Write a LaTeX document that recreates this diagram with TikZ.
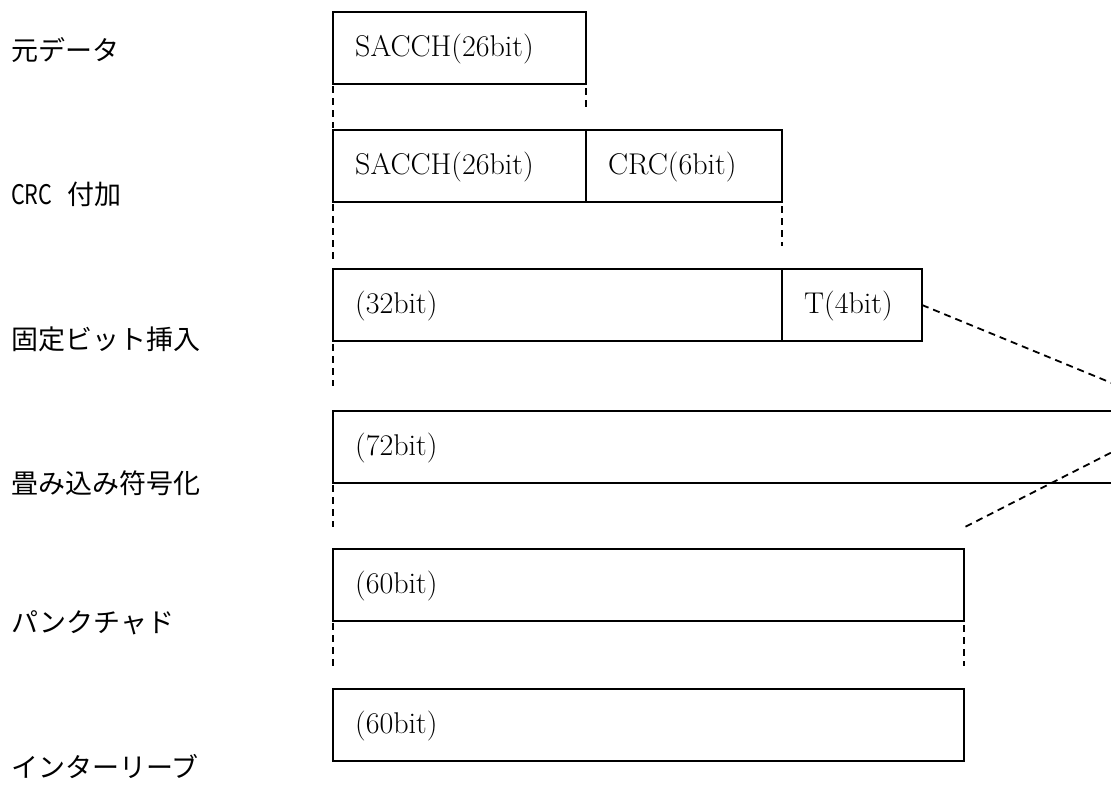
\documentclass[tikz,border=0pt]{standalone}
\usepackage{fontspec}
\newfontfamily\jp{Noto Sans CJK JP}
\begin{document}
\begin{tikzpicture}[x=1pt,y=-1pt,
  blk/.style={draw,line width=1.9pt,rectangle,inner sep=0pt,outer sep=0pt,anchor=north west,minimum height=72pt},
  btxt/.style={anchor=base west,inner sep=0pt,font=\fontsize{30}{36}\selectfont},
  lbl/.style={anchor=west,inner sep=0pt,font=\jp\fontsize{27}{32}\selectfont},
  guide/.style={line width=1.8pt,dash pattern=on 7pt off 5pt}]
\useasboundingbox (0,0) rectangle (1111,785);
\clip (0,0) rectangle (1111,785);
\fill[white] (0,0) rectangle (1111,785);

% boxes
\node[blk,minimum width=253pt] (b1)  at (333,12)  {};
\node[blk,minimum width=253pt] (b2a) at (333,130) {};
\node[blk,minimum width=196pt] (b2b) at (586,130) {};
\node[blk,minimum width=449pt] (b3a) at (333,269) {};
\node[blk,minimum width=140pt] (b3b) at (782,269) {};
\node[blk,minimum width=830pt] (b4)  at (333,411) {};
\node[blk,minimum width=631pt] (b5)  at (333,549) {};
\node[blk,minimum width=631pt] (b6)  at (333,689) {};

% box texts
\node[btxt] (t1)  at ([xshift=22pt,yshift=-44pt]b1.north west)  {SACCH(26bit)};
\node[btxt] (t2a) at ([xshift=22pt,yshift=-44pt]b2a.north west) {SACCH(26bit)};
\node[btxt] (t2b) at ([xshift=22pt,yshift=-44pt]b2b.north west) {CRC(6bit)};
\node[btxt] (t3a) at ([xshift=22pt,yshift=-44pt]b3a.north west) {(32bit)};
\node[btxt] (t3b) at ([xshift=22pt,yshift=-44pt]b3b.north west) {T(4bit)};
\node[btxt] (t4)  at ([xshift=22pt,yshift=-44pt]b4.north west)  {(72bit)};
\node[btxt] (t5)  at ([xshift=22pt,yshift=-44pt]b5.north west)  {(60bit)};
\node[btxt] (t6)  at ([xshift=22pt,yshift=-44pt]b6.north west)  {(60bit)};

% row labels
\node[lbl] (l1) at (11,50)  {元データ};
\node[lbl] (l2) at (11,194) {\scalebox{0.8}[1]{CRC}\hspace{15pt}付加};
\node[lbl] (l3) at (11,339) {固定ビット挿入};
\node[lbl] (l4) at (11,483) {畳み込み符号化};
\node[lbl] (l5) at (11,623) {パンクチャド};
\node[lbl] (l6) at (11,767) {インターリーブ};

% dashed guides
\draw[guide] ([yshift=-2pt]b1.south west) -- ([yshift=2pt]b2a.north west);
\draw[guide] ([yshift=-4pt]b1.south east) -- ([yshift=-24pt]b1.south east);
\draw[guide] ([yshift=-2pt]b2a.south west) -- ([yshift=6pt]b3a.north west);
\draw[guide] ([yshift=-4pt]b2b.south east) -- ([yshift=-44pt]b2b.south east);
\draw[guide] ([yshift=-3pt]b3a.south west) -- ([yshift=-45pt]b3a.south west);
\draw[guide] ([yshift=-2pt]b4.south west) -- ([yshift=-44pt]b4.south west);
\draw[guide] ([yshift=-2pt]b5.south west) -- ([yshift=-45pt]b5.south west);
\draw[guide] ([yshift=-4pt]b5.south east) -- ([yshift=-45pt]b5.south east);

% diagonal dashed bracket
\coordinate (apex) at (1187,414);
\coordinate (dend) at (963,528);
\draw[guide] (b3b.east) -- (apex) -- (dend);
\end{tikzpicture}
\end{document}
